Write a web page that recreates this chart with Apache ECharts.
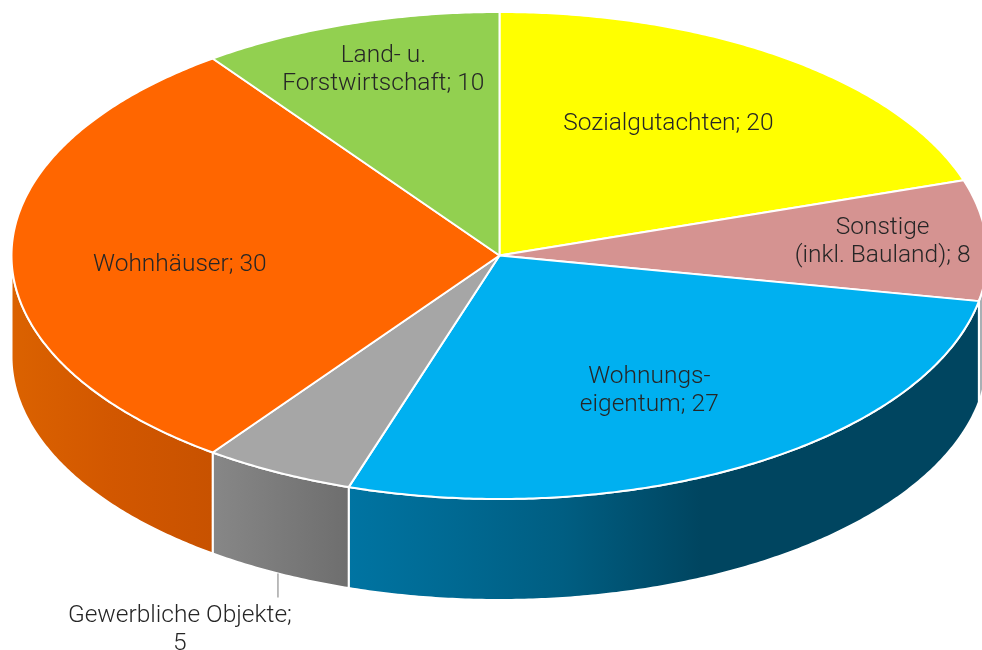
<!DOCTYPE html>
<html>
<head>
<meta charset="utf-8">
<style>html,body{margin:0;padding:0;background:#fff}#c{width:982px;height:650px}</style>
<script src="https://cdn.jsdelivr.net/npm/echarts@6/dist/echarts.min.js"></script>
</head>
<body>
<div id="c"></div>
<script>
const categories = ['Sozialgutachten','Sonstige\n(inkl. Bauland)','Wohnungs-\neigentum','Gewerbliche Objekte','Wohnhäuser','Land- u.\nForstwirtschaft'];
const values = [20, 8, 27, 5, 30, 10];
const separators = ['; ', '; ', '; ', ';\n', '; ', '; '];
const topColors = ['#FFFF00','#D59391','#00B0F0','#A6A6A6','#FF6600','#92D050'];
const wallStops = [
  [[0,'#a8a800'],[1,'#a8a800']],
  [[0,'#a9b0b4'],[1,'#a9b0b4']],
  [[0,'#0074A2'],[0.34,'#005E82'],[0.56,'#004560'],[1,'#004560']],
  [[0,'#878787'],[1,'#6E6E6E']],
  [[0,'#DB6200'],[0.5,'#D25700'],[1,'#C85200']],
  [[0,'#5f8a33'],[1,'#5f8a33']]
];
// label centres as fractions of the pie radii
const labelAnchors = [[0.346,-0.54],[0.785,-0.056],[0.307,0.558],[-0.655,1.536],[-0.655,0.038],[-0.238,-0.764]];

const CX = 499.5, CY = 255.5, RX = 488, RY = 243.5, DEPTH = 101;
const total = values.reduce((a, b) => a + b, 0);
const pt = (deg, dy) => {
  const a = deg * Math.PI / 180;
  return [CX + RX * Math.sin(a), CY - RY * Math.cos(a) + (dy || 0)];
};
const arc = (from, to, dy) => {
  const out = [];
  const n = Math.max(2, Math.ceil((to - from) * 2));
  for (let i = 0; i <= n; i++) out.push(pt(from + (to - from) * i / n, dy));
  return out;
};

function renderItem(params, api) {
  const i = params.dataIndex;
  let before = 0;
  for (let k = 0; k < i; k++) before += values[k];
  const value = api.value(0);
  const a0 = before / total * 360;
  const a1 = (before + value) / total * 360;
  const children = [];

  const w0 = Math.max(a0, 90), w1 = Math.min(a1, 270);
  if (w1 > w0) {
    const front = arc(w0, w1, 0);
    const back = arc(w0, w1, DEPTH).reverse();
    const xs = front.map(p => p[0]);
    const left = Math.min.apply(null, xs), right = Math.max.apply(null, xs);
    const stops = wallStops[i].map(s => ({offset: s[0], color: s[1]}));
    children.push({
      type: 'polygon',
      shape: {points: front.concat(back)},
      style: {
        fill: new echarts.graphic.LinearGradient(left, 0, right, 0, stops, true),
        stroke: '#fff', lineWidth: 2
      }
    });
  }
  children.push({
    type: 'polygon',
    shape: {points: [[CX, CY]].concat(arc(a0, a1, 0))},
    style: {fill: topColors[i], stroke: '#fff', lineWidth: 2, lineJoin: 'round'}
  });
  const anchor = labelAnchors[i];
  if (anchor[1] > 1) {
    const mid = (a0 + a1) / 2;
    const p = pt(mid, DEPTH);
    children.push({
      type: 'line',
      shape: {x1: p[0], y1: p[1], x2: p[0], y2: p[1] + 24},
      style: {stroke: '#A6A6A6', lineWidth: 1.5}
    });
  }
  children.push({
    type: 'text',
    z2: 10,
    style: {
      x: CX + anchor[0] * RX,
      y: CY + anchor[1] * RY,
      text: categories[i] + separators[i] + value,
      fill: '#262626',
      font: '300 24.5px Roboto, "Liberation Sans", sans-serif',
      lineHeight: 28,
      align: 'center',
      verticalAlign: 'middle'
    }
  });
  return {type: 'group', children};
}

const chart = echarts.init(document.getElementById('c'), null, {renderer: 'canvas'});
chart.setOption({
  animation: false,
  backgroundColor: '#fff',
  series: [{
    type: 'custom',
    coordinateSystem: 'none',
    renderItem,
    clip: false,
    encode: {value: 0, itemName: 1},
    data: values.map((v, i) => [v, categories[i].replace('\n', ' ')])
  }]
});
</script>
</body>
</html>
